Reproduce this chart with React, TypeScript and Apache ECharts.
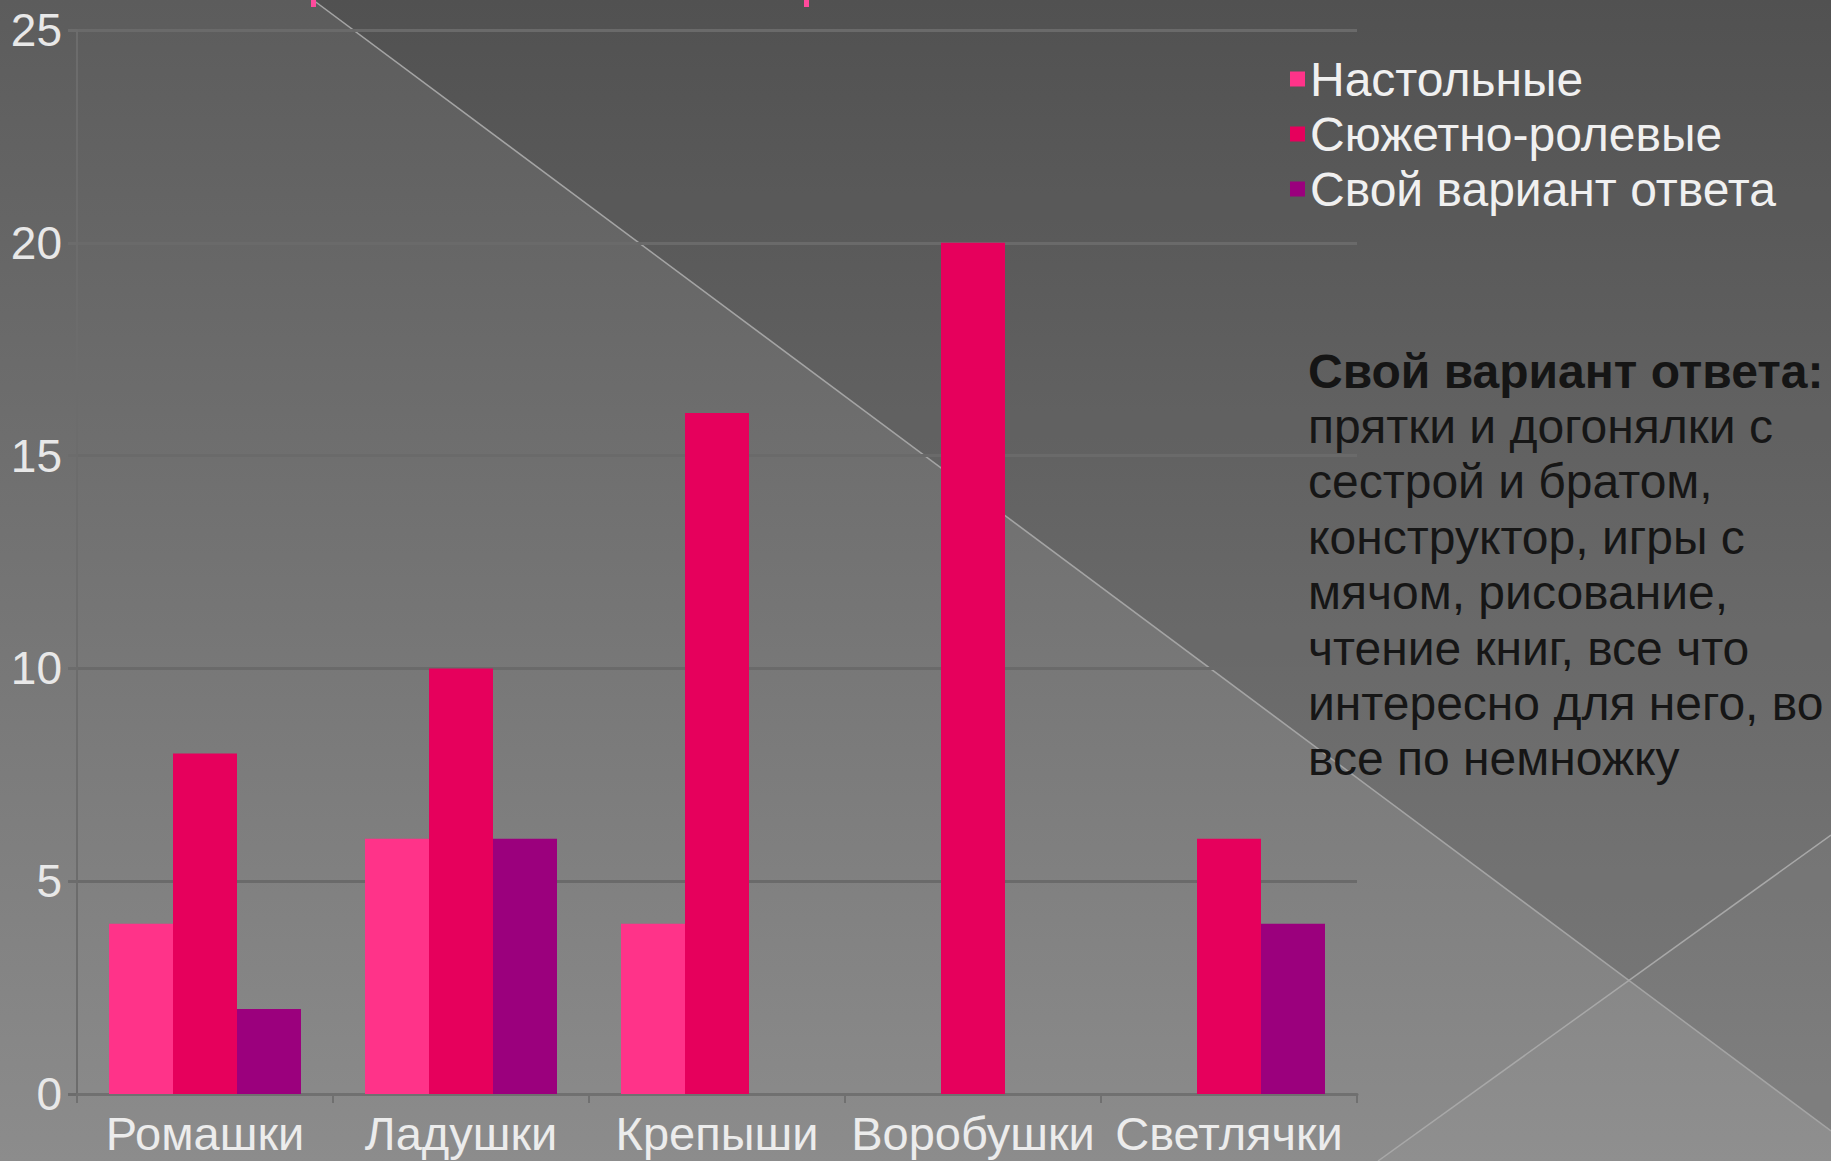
import React, { useEffect, useRef } from "react";
import * as echarts from "echarts";

const categories = ["Ромашки", "Ладушки", "Крепыши", "Воробушки", "Светлячки"];
const seriesNames = ["Настольные", "Сюжетно-ролевые", "Свой вариант ответа"];
const boardGames = [4, 6, 4, 0, 0];
const rolePlay = [8, 10, 16, 20, 6];
const ownVariant = [2, 6, 0, 0, 4];
const seriesColors = ["#ff3389", "#e6005c", "#9b007d"];
const yMin = 0;
const yMax = 25;
const yStep = 5;

const noteTitle = "Свой вариант ответа:";
const noteLines = [
  "прятки и догонялки с",
  "сестрой и братом,",
  "конструктор, игры с",
  "мячом, рисование,",
  "чтение книг, все что",
  "интересно для него, во",
  "все по немножку",
];

const FONT = "'Liberation Sans', Arial, sans-serif";

export default function App() {
  const ref = useRef<HTMLDivElement>(null);

  useEffect(() => {
    document.body.style.margin = "0";
    if (!ref.current) return;
    const chart = echarts.init(ref.current, undefined, { renderer: "svg" });
    const W = 1831;
    const H = 1161;
    const values = [boardGames, rolePlay, ownVariant];

    const lineH = 55.4;
    const noteX = 1308;
    const noteY0 = 371;

    const graphics: any[] = [
      {
        type: "polygon",
        z: -100,
        silent: true,
        shape: { points: [[313, 0], [W, 0], [W, 1131]] },
        style: { fill: "rgba(0,0,0,0.11)" },
      },
      {
        type: "polygon",
        z: -100,
        silent: true,
        shape: { points: [[W, 835], [W, H], [1378, H]] },
        style: { fill: "rgba(255,255,255,0.03)" },
      },
      {
        type: "line",
        z: -99,
        silent: true,
        shape: { x1: 313, y1: 0, x2: W, y2: 1131 },
        style: { stroke: "#a4a4a4", lineWidth: 1.5 },
      },
      {
        type: "line",
        z: -99,
        silent: true,
        shape: { x1: W, y1: 835, x2: 1378, y2: H },
        style: { stroke: "#a8a8a8", lineWidth: 1.5 },
      },
      {
        type: "rect",
        silent: true,
        shape: { x: 311, y: 0, width: 5, height: 7 },
        style: { fill: "#ff4a9c" },
      },
      {
        type: "rect",
        silent: true,
        shape: { x: 804, y: 0, width: 5, height: 7 },
        style: { fill: "#ff4a9c" },
      },
      {
        type: "text",
        x: noteX,
        y: noteY0,
        style: {
          text: noteTitle,
          font: `bold 48px ${FONT}`,
          fill: "#151515",
          verticalAlign: "middle",
          align: "left",
        },
      },
      ...noteLines.map((t, i) => ({
        type: "text",
        x: noteX,
        y: noteY0 + (i + 1) * lineH,
        style: {
          text: t,
          font: `48px ${FONT}`,
          fill: "#161616",
          verticalAlign: "middle",
          align: "left",
        },
      })),
    ];

    chart.setOption({
      animation: false,
      backgroundColor: new echarts.graphic.LinearGradient(0, 0, 0, 1, [
        { offset: 0, color: "#5c5c5c" },
        { offset: 1, color: "#8c8c8c" },
      ]),
      textStyle: { fontFamily: FONT },
      grid: { left: 77, right: W - 1357, top: 30, bottom: H - 1094, containLabel: false },
      legend: {
        orient: "vertical",
        left: 1290,
        top: 55,
        padding: 0,
        itemWidth: 15,
        itemHeight: 15,
        itemGap: 7,
        icon: "rect",
        textStyle: { color: "#f0f0f0", fontSize: 48, fontFamily: FONT, lineHeight: 48, padding: [0, 0, 0, 0] },
        data: seriesNames,
      },
      xAxis: {
        type: "category",
        data: categories,
        axisLine: { show: true, lineStyle: { color: "#707070", width: 3 } },
        axisTick: { show: true, alignWithLabel: false, length: 9, lineStyle: { color: "#707070", width: 2 } },
        axisLabel: { color: "#ececec", fontSize: 47, lineHeight: 36, fontFamily: FONT, margin: 21, interval: 0 },
        splitLine: { show: false },
      },
      yAxis: {
        type: "value",
        min: yMin,
        max: yMax,
        interval: yStep,
        axisLine: { show: true, lineStyle: { color: "#6c6c6c", width: 2 } },
        axisTick: { show: true, length: 9, lineStyle: { color: "#6c6c6c", width: 3 } },
        axisLabel: { color: "#e8e8e8", fontSize: 46, fontFamily: FONT, margin: 15 },
        splitLine: { show: true, lineStyle: { color: "#6a6a6a", width: 3 } },
      },
      series: seriesNames.map((name, i) => ({
        name,
        type: "bar",
        data: values[i],
        barGap: "0%",
        barCategoryGap: "25%",
        itemStyle: { color: seriesColors[i], borderWidth: 0 },
      })),
      graphic: graphics,
    });

    return () => chart.dispose();
  }, []);

  return (
    <div
      ref={ref}
      style={{ position: "fixed", left: 0, top: 0, width: "1831px", height: "1161px" }}
    />
  );
}
